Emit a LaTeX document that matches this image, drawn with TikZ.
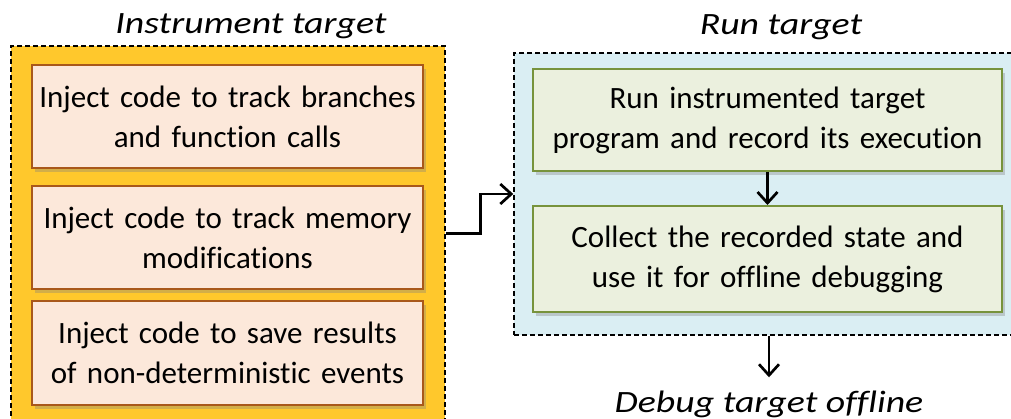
\documentclass[tikz,border=0pt]{standalone}
\usepackage{fontspec}
\setmainfont[Ligatures=NoCommon]{Carlito}
\newfontfamily\titlefont[Ligatures=NoCommon, FakeStretch=1.22]{Carlito}
\usepackage{tikz}
\usetikzlibrary{positioning, calc, shapes, arrows.meta, shadows}
\definecolor{goldfill}{HTML}{FFC82C}
\definecolor{peachfill}{HTML}{FCE8DA}
\definecolor{peachline}{HTML}{A9581A}
\definecolor{bluefill}{HTML}{DAEEF3}
\definecolor{olivefill}{HTML}{EBF0DE}
\definecolor{oliveline}{HTML}{77933C}
\tikzstyle{Arrow} = [
%open arrow for the flow:
line width=2.7pt,
-{Straight Barb[length=11pt, width=20pt, line width=2.7pt]}
]

\begin{document}
\begin{tikzpicture}[x=1pt, y=-1pt,
			stage/.style = {rectangle, draw, line width=1.4pt, dash pattern=on 5pt off 3pt, inner sep=0pt},
			inject/.style = {rectangle, draw=peachline, line width=2pt, fill=peachfill, text width=385pt, align=center, minimum width=391pt, minimum height=103pt, inner sep=2pt, font=\fontsize{31}{40}\selectfont, drop shadow={shadow xshift=3pt, shadow yshift=-4pt, opacity=0.35}},
			record/.style = {rectangle, draw=oliveline, line width=2pt, fill=olivefill, text width=460pt, align=center, minimum width=469pt, inner sep=2pt, font=\fontsize{31}{40}\selectfont, drop shadow={shadow xshift=3pt, shadow yshift=-4pt, opacity=0.35}},
			caption/.style = {anchor=base, font=\titlefont\fontsize{31}{36}\itshape},
		]
		\clip (0,0) rectangle (1011,419);

		% containers
		\node[stage, fill=goldfill, minimum width=434pt, minimum height=375pt](IC) at (228,233.5){};
		\node[stage, fill=bluefill, minimum width=516pt, minimum height=282pt](RC) at (772,194){};
		\node[caption](ICT) at (251,34){Instrument target};
		\node[caption](RCT) at (781,35){Run target};

		% instrument steps
		\node[inject](I1) at (227.5,116.5){Inject code to track branches\\and function calls};
		\node[inject](I2) at (227.5,238){Inject code to track memory\\modifications};
		\node[inject](I3) at (227.5,353){Inject code to save results\\of non-deterministic events};

		% run steps
		\node[record, minimum height=102pt](R1) at (767.5,120){Run instrumented target\\program and record its execution};
		\node[record, minimum height=106pt](R2) at (767.5,259){Collect the recorded state and\\use it for offline debugging};
		\node[caption, inner sep=13pt](DT) at (769,412){Debug target offline};

		\draw[Arrow](IC.east) -- ++(35,0) |- (RC.west);
		\draw[Arrow](R1) -- (R2);
		\draw[Arrow](DT.north |- RC.south) -- (DT.north);

	\end{tikzpicture}
\end{document}
